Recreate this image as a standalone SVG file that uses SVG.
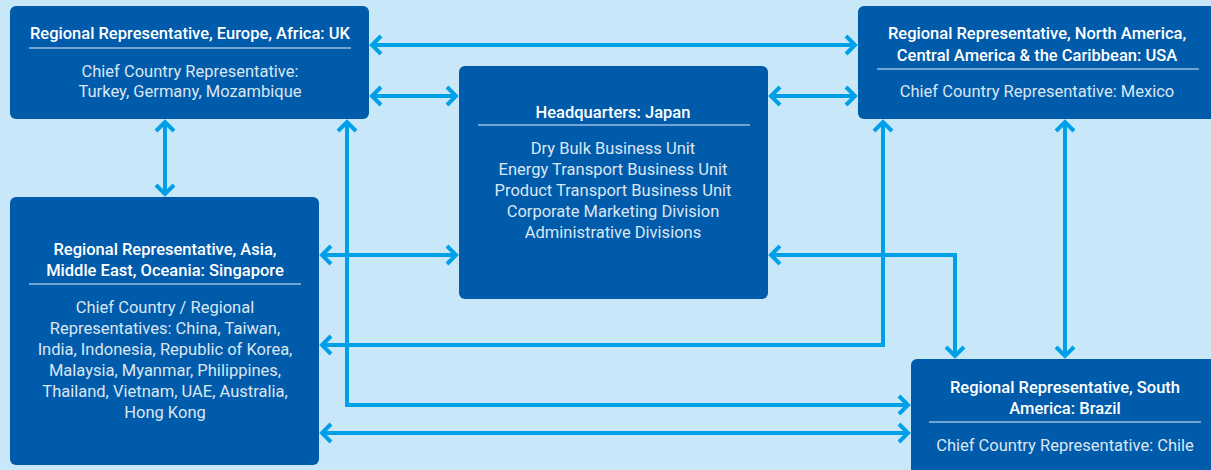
<svg xmlns="http://www.w3.org/2000/svg" width="1211" height="470" viewBox="0 0 1211 470">
<defs>
<style>
.box{fill:#005bab;}
.t{font-family:Roboto,"Liberation Sans",sans-serif;font-size:16.5px;font-weight:500;fill:#ffffff;text-anchor:middle;}
.b{font-family:Roboto,"Liberation Sans",sans-serif;font-size:16.5px;font-weight:400;fill:#dbe6f2;text-anchor:middle;}
.rule{stroke:#e6eef7;stroke-width:1.2;}
.c{fill:none;stroke:#00a0e9;stroke-width:4;marker-start:url(#ah);marker-end:url(#ah);}
</style>
<marker id="ah" markerUnits="userSpaceOnUse" markerWidth="30" markerHeight="30" viewBox="-15 -15 30 30" refX="0" refY="0" orient="auto-start-reverse" overflow="visible">
<polyline points="-9,-9 0,0 -9,9" fill="none" stroke="#00a0e9" stroke-width="4" stroke-linejoin="miter"/>
</marker>
</defs>
<rect x="0" y="0" width="1211" height="470" fill="#c8e7f8"/>
<g id="connectors">
<path class="c" d="M372,45 H855"/>
<path class="c" d="M372,96 H456"/>
<path class="c" d="M771,96 H855"/>
<path class="c" d="M165,122 V194"/>
<path class="c" d="M347,122 V405 H908"/>
<path class="c" d="M322,255 H456"/>
<path class="c" d="M883,122 V345 H322"/>
<path class="c" d="M771,255 H955 V356"/>
<path class="c" d="M1065,122 V356"/>
<path class="c" d="M322,433 H908"/>
</g>
<g id="uk">
<rect class="box" x="10" y="6" width="359" height="113" rx="6"/>
<text class="t" x="190" y="39">Regional Representative, Europe, Africa: UK</text>
<line class="rule" x1="29" y1="48" x2="351" y2="48"/>
<text class="b" x="190" y="77">Chief Country Representative:</text>
<text class="b" x="190" y="97">Turkey, Germany, Mozambique</text>
</g>
<g id="hq">
<rect class="box" x="459" y="66" width="309" height="233" rx="6"/>
<text class="t" x="613" y="118">Headquarters: Japan</text>
<line class="rule" x1="478" y1="125" x2="750" y2="125"/>
<text class="b" x="613" y="154">Dry Bulk Business Unit</text>
<text class="b" x="613" y="175">Energy Transport Business Unit</text>
<text class="b" x="613" y="196">Product Transport Business Unit</text>
<text class="b" x="613" y="217">Corporate Marketing Division</text>
<text class="b" x="613" y="238">Administrative Divisions</text>
</g>
<g id="usa">
<rect class="box" x="858" y="6" width="365" height="113" rx="6"/>
<text class="t" x="1037" y="39">Regional Representative, North America,</text>
<text class="t" x="1037" y="61">Central America &amp; the Caribbean: USA</text>
<line class="rule" x1="877" y1="69" x2="1199" y2="69"/>
<text class="b" x="1037" y="97">Chief Country Representative: Mexico</text>
</g>
<g id="singapore">
<rect class="box" x="10" y="197" width="309" height="268" rx="6"/>
<text class="t" x="165" y="255">Regional Representative, Asia,</text>
<text class="t" x="165" y="276">Middle East, Oceania: Singapore</text>
<line class="rule" x1="29" y1="284" x2="301" y2="284"/>
<text class="b" x="165" y="313">Chief Country / Regional</text>
<text class="b" x="165" y="334">Representatives: China, Taiwan,</text>
<text class="b" x="165" y="355">India, Indonesia, Republic of Korea,</text>
<text class="b" x="165" y="376">Malaysia, Myanmar, Philippines,</text>
<text class="b" x="165" y="397">Thailand, Vietnam, UAE, Australia,</text>
<text class="b" x="165" y="418">Hong Kong</text>
</g>
<g id="brazil">
<rect class="box" x="911" y="359" width="310" height="120" rx="6"/>
<text class="t" x="1065" y="393">Regional Representative, South</text>
<text class="t" x="1065" y="414">America: Brazil</text>
<line class="rule" x1="929" y1="422" x2="1201" y2="422"/>
<text class="b" x="1065" y="451">Chief Country Representative: Chile</text>
</g>
</svg>
